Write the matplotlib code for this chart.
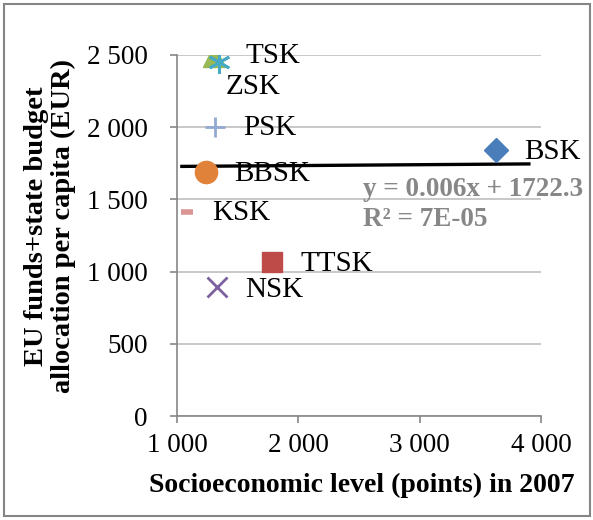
import matplotlib
matplotlib.use("Agg")
import matplotlib.pyplot as plt
from matplotlib.patches import Rectangle
from matplotlib.ticker import FuncFormatter

plt.rcParams['font.family'] = ['Liberation Serif', 'DejaVu Serif']

# regions of Slovakia
regions = ["BSK", "TTSK", "TSK", "NSK", "ZSK", "BBSK", "PSK", "KSK"]
level_2007 = [3630, 1785, 1305, 1330, 1345, 1240, 1315, 1080]
allocation = [1842, 1066, 2490, 893, 2450, 1690, 2000, 1413]

markers = ["D", "s", "^", "x", (6, 2, 0), "o", "+", "_"]
colors = ["#4A7EBB", "#BE4B48", "#98B954", "#7D60A0", "#46AAC5", "#E1823A", "#93A9D2", "#D99694"]
sizes = [12, 15, 16, 14, 16, 16, 14, 9]
mews = [1, 1, 1, 2, 2, 1, 2, 4]
# label offsets in pixels (dx, dy)
label_off = [(28, -2), (28, -2), (31, 0), (28, -3), (7, -25), (28, -2), (28, -1), (25, -1)]

# linear trend (Excel)
slope, intercept = 0.006, 1722.3
trend_x = [1040, 3900]

fig = plt.figure(figsize=(5.93, 5.20), dpi=100)
ax = fig.add_axes([177/593, 1 - 416/520, 364/593, 361/520])

ax.yaxis.grid(True, color="#BFBFBF", lw=1.2)
ax.set_axisbelow(True)

ax.plot(trend_x, [slope * x + intercept for x in trend_x], color="black", lw=2.4, zorder=3)

for i, r in enumerate(regions):
    ax.plot(level_2007[i], allocation[i], marker=markers[i], color=colors[i],
            ms=sizes[i], mew=mews[i], ls="none", zorder=5 if i == 4 else 4)
    ax.annotate(r, (level_2007[i], allocation[i]), xytext=label_off[i],
                textcoords="offset pixels", fontsize=21, va="center", ha="left",
                zorder=6)

ax.text(1.0 - 178/364, 1 - (189 - 55)/361, "y = 0.006x + 1722.3", transform=ax.transAxes,
        fontsize=19.5, fontweight="bold", color="#878787", ha="left", va="center", clip_on=False)
ax.text(1.0 - 178/364, 1 - (219 - 55)/361, "R² = 7E-05", transform=ax.transAxes,
        fontsize=19.5, fontweight="bold", color="#878787", ha="left", va="center", clip_on=False)

ax.set_xlim(1000, 4000)
ax.set_ylim(0, 2500)
ax.set_xticks([1000, 2000, 3000, 4000])
ax.set_yticks([0, 500, 1000, 1500, 2000, 2500])
fmt = FuncFormatter(lambda v, p: f"{int(v):,}".replace(",", " "))
ax.xaxis.set_major_formatter(fmt)
ax.yaxis.set_major_formatter(fmt)
ax.tick_params(labelsize=19.5, length=5, width=1.2, color="#868686")
ax.tick_params(axis="y", pad=16)
ax.tick_params(axis="x", pad=7)

for s in ("top", "right"):
    ax.spines[s].set_visible(False)
for s in ("left", "bottom"):
    ax.spines[s].set_color("#868686")
    ax.spines[s].set_linewidth(1.2)

fig.text(362/593, 1 - 485/520, "Socioeconomic level (points) in 2007", fontsize=20,
         fontweight="bold", ha="center", va="center")
fig.text(50/593, 1 - 226/520, "EU funds+state budget\nallocation per capita (EUR)", fontsize=20.5,
         fontweight="bold", ha="center", va="center", rotation=90, linespacing=1.12)

fig.patches.append(Rectangle((4/593, 4/520), 586/593, 512/520, transform=fig.transFigure,
                             fill=False, edgecolor="#868686", lw=1.5))

fig.savefig("out.png", dpi=100)
